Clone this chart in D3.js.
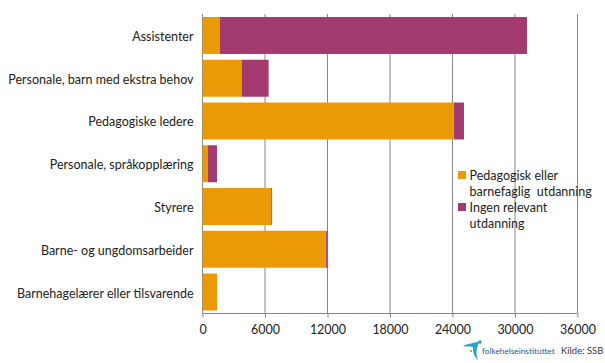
<!DOCTYPE html>
<html>
<head>
<meta charset="utf-8">
<script src="https://cdn.jsdelivr.net/npm/d3@7"></script>
<style>
html, body { margin: 0; padding: 0; background: #fff; }
text { font-family: Lato, "Open Sans", sans-serif; fill: #222; }
</style>
</head>
<body>
<div id="chart"></div>
<script>
// Step 1: the data
var categories = ["Assistenter", "Personale, barn med ekstra behov", "Pedagogiske ledere",
    "Personale, språkopplæring", "Styrere", "Barne- og ungdomsarbeider",
    "Barnehagelærer eller tilsvarende"];
var pedagogisk = [1680, 3760, 24150, 530, 6600, 11870, 1390];
var ingenRelevant = [29470, 2590, 950, 860, 80, 130, 10];
var xTicks = [0, 6000, 12000, 18000, 24000, 30000, 36000];
var seriesNames = ["pedagogisk", "ingen"];
var seriesColors = ["#eb9a07", "#a33a70"];
var legendLines = [["Pedagogisk eller", "barnefaglig  utdanning"], ["Ingen relevant", "utdanning"]];

var w = 605;
var h = 363;

var svg = d3.select("#chart")
    .append("svg")
    .attr("width", w)
    .attr("height", h)
    .style("display", "block");

// Step 2: scales
var x = d3.scaleLinear().domain([0, 36000]).range([202.5, 577.5]);
var y = d3.scaleBand().domain(categories).range([14, 313.5]).paddingInner(0.135).paddingOuter(0.07);

// Step 3: gridlines and axes
svg.append("g")
    .attr("transform", "translate(0,313.5)")
    .call(d3.axisBottom(x).tickValues(xTicks).tickFormat(d3.format("d")).tickSize(4).tickPadding(8))
    .call(function (g) {
        g.selectAll("line, path").attr("stroke", "#868686").attr("stroke-width", 1);
        g.select("path").attr("d", "M202.5,0H577.5");
        g.selectAll("text").attr("font-size", 12.5).attr("fill", "#222");
    });

svg.append("g")
    .selectAll("line")
    .data(xTicks)
    .enter()
    .append("line")
    .attr("x1", function (d) { return x(d); })
    .attr("x2", function (d) { return x(d); })
    .attr("y1", 14)
    .attr("y2", 313.5)
    .attr("stroke", "#868686");

// Step 4: stacked bars
var rows = categories.map(function (c, i) {
    return { category: c, pedagogisk: pedagogisk[i], ingen: ingenRelevant[i] };
});
var stacked = d3.stack().keys(seriesNames)(rows);

svg.append("g")
    .selectAll("g")
    .data(stacked)
    .enter()
    .append("g")
    .attr("fill", function (d, i) { return seriesColors[i]; })
    .selectAll("rect")
    .data(function (d) { return d; })
    .enter()
    .append("rect")
    .attr("x", function (d) { return x(d[0]); })
    .attr("width", function (d) { return x(d[1]) - x(d[0]); })
    .attr("y", function (d) { return y(d.data.category); })
    .attr("height", y.bandwidth());

// Step 5: category labels
svg.append("g")
    .selectAll("text")
    .data(categories)
    .enter()
    .append("text")
    .attr("x", 193.5)
    .attr("y", function (d) { return y(d) + y.bandwidth() / 2 + 5.5; })
    .attr("text-anchor", "end")
    .attr("font-size", 12.5)
    .text(function (d) { return d; });

// Step 6: legend
var legend = svg.append("g")
    .selectAll("g")
    .data(legendLines)
    .enter()
    .append("g")
    .attr("transform", function (d, i) { return "translate(458," + (171 + i * 32) + ")"; });

legend.append("rect")
    .attr("width", 8)
    .attr("height", 8)
    .attr("fill", function (d, i) { return seriesColors[i]; });

legend.selectAll("text")
    .data(function (d) { return d; })
    .enter()
    .append("text")
    .attr("x", 11.5)
    .attr("y", function (d, i) { return 8.5 + i * 16; })
    .attr("font-size", 12.5)
    .style("white-space", "pre")
    .text(function (d) { return d; });

// Step 7: logo and source line
var logo = svg.append("g").attr("transform", "translate(463,341)");
logo.append("path")
    .attr("d", "M0,5 C6,2 12,2 17,0 C14,5 12,12 15,19 C10,15 10,9 10,6 C7,5 3,6 0,5 Z")
    .attr("fill", "#2aa3c4");
logo.append("circle").attr("cx", 17).attr("cy", 1).attr("r", 1.8).attr("fill", "#2aa3c4");
logo.append("circle").attr("cx", 8).attr("cy", 10).attr("r", 1).attr("fill", "#2aa3c4");

svg.append("text")
    .attr("x", 482)
    .attr("y", 354)
    .attr("font-size", 8.3)
    .style("fill", "#2a5a8c")
    .text("folkehelseinstituttet");

svg.append("text")
    .attr("x", 561)
    .attr("y", 354)
    .attr("font-size", 9.5)
    .style("fill", "#333")
    .text("Kilde: SSB");
</script>
</body>
</html>
